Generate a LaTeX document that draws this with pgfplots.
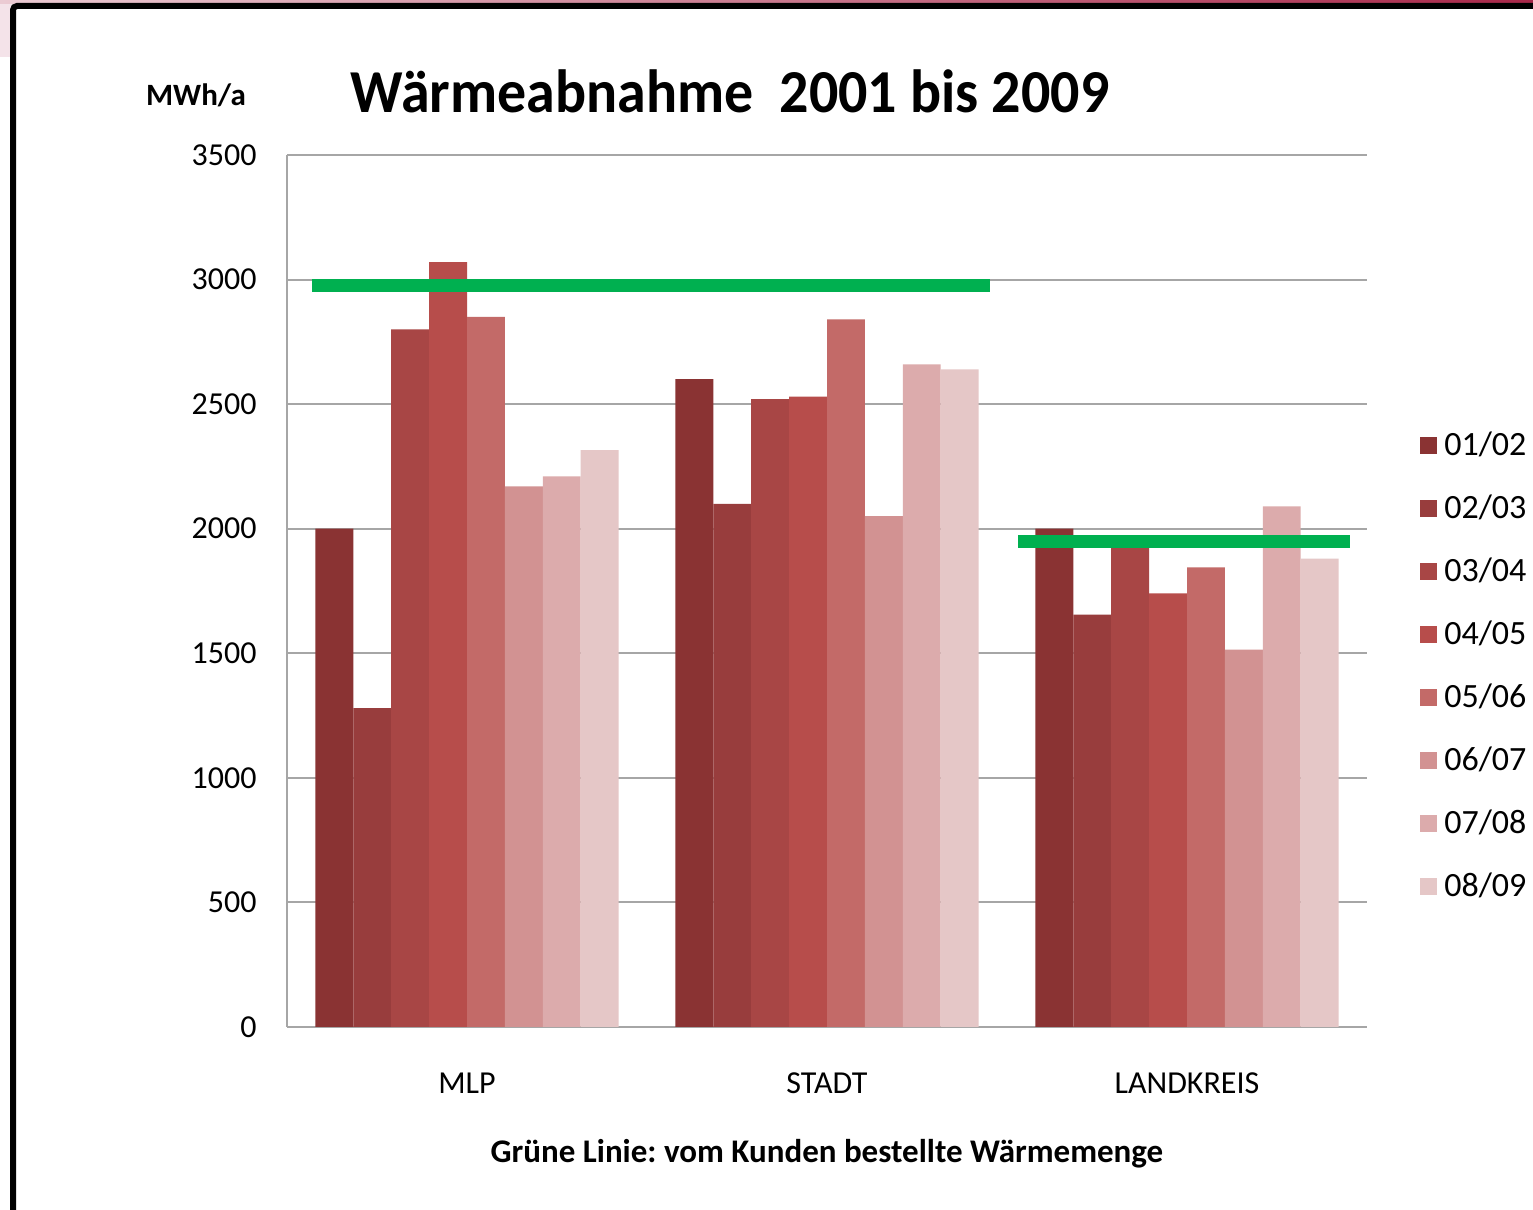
\documentclass[border=0pt]{standalone}
\usepackage{fontspec}
\setmainfont{Carlito}
\newfontfamily\titlefont[FakeStretch=0.95]{Carlito}
\usepackage{pgfplots}
\pgfplotsset{compat=1.18}
\frenchspacing
\definecolor{cA}{HTML}{8A3333}
\definecolor{cB}{HTML}{983D3D}
\definecolor{cC}{HTML}{A84645}
\definecolor{cD}{HTML}{B74D4B}
\definecolor{cE}{HTML}{C36A68}
\definecolor{cF}{HTML}{D29292}
\definecolor{cG}{HTML}{DCABAC}
\definecolor{cH}{HTML}{E5C7C7}
\definecolor{mygreen}{HTML}{00B050}
\definecolor{gridgray}{HTML}{A6A6A6}
\definecolor{pinkbg}{HTML}{F4E3E9}
\definecolor{stripL}{HTML}{EBCBD3}
\definecolor{stripR}{HTML}{A8284A}
\pgfplotsset{
  mybar/.style n args={2}{ybar, bar width=18.95pt, bar shift=#2, fill=#1, draw=none,
    legend image code/.code={\fill[#1] (0pt,-5pt) rectangle (8.5pt,3.5pt);}},
}
\begin{document}
\begin{tikzpicture}[x=1pt,y=1pt]
\path[use as bounding box] (0,0) rectangle (766.5,605);
\fill[white] (0,0) rectangle (766.5,605);
\fill[pinkbg] (0,576.5) rectangle (6,605);
\shade[left color=stripL, right color=stripR] (0,603.3) rectangle (766.5,605);
\draw[line width=3pt, rounded corners=2pt] (6.5,0) -- (6.5,602) -- (766.5,602);

\node[anchor=base, font=\fontsize{30.5}{31}\titlefont\bfseries] at (365,548.5) {Wärmeabnahme\ \ 2001 bis 2009};
\node[anchor=base, font=\fontsize{15.5}{16}\selectfont\bfseries] at (98,552) {MWh/a};
\node[anchor=base, font=\fontsize{16.5}{17}\selectfont\bfseries] at (413.5,23.5) {Grüne Linie: vom Kunden bestellte Wärmemenge};

\begin{axis}[
  at={(143.5pt,91.5pt)}, anchor=south west,
  scale only axis, width=540pt, height=436pt,
  xmin=-0.5, xmax=2.5, ymin=0, ymax=3500,
  axis x line*=bottom, axis y line*=left,
  axis line style={-, draw=gridgray, line width=1pt},
  ytick={0,500,...,3500},
  ymajorgrids, grid style={gridgray, line width=1pt},
  xtick={0,1,2}, xticklabels={MLP,STADT,LANDKREIS},
  major tick length=0pt,
  tick label style={font=\fontsize{16}{16}\selectfont},
  yticklabel style={inner sep=0pt, xshift=-15pt},
  xticklabel style={anchor=base, inner sep=0pt, yshift=-33.5pt},
  /pgf/number format/assume math mode=true,
  /pgf/number format/1000 sep={},
  legend cell align=left,
  legend style={at={(rel axis cs:1.049,0.683)}, anchor=north west,
    draw=none, fill=none, inner sep=0pt, row sep=19.5pt, column sep=3.5pt,
    font=\fontsize{17}{17}\selectfont,
    nodes={inner sep=0pt, text height=12pt, text depth=0pt}},
]
\addplot[mybar={cA}{-66.325pt}] coordinates {(0,2000) (1,2600) (2,2000)};
\addlegendentry{01/02}
\addplot[mybar={cB}{-47.375pt}] coordinates {(0,1280) (1,2100) (2,1655)};
\addlegendentry{02/03}
\addplot[mybar={cC}{-28.425pt}] coordinates {(0,2800) (1,2520) (2,1950)};
\addlegendentry{03/04}
\addplot[mybar={cD}{-9.475pt}] coordinates {(0,3070) (1,2530) (2,1740)};
\addlegendentry{04/05}
\addplot[mybar={cE}{9.475pt}] coordinates {(0,2850) (1,2840) (2,1845)};
\addlegendentry{05/06}
\addplot[mybar={cF}{28.425pt}] coordinates {(0,2170) (1,2050) (2,1515)};
\addlegendentry{06/07}
\addplot[mybar={cG}{47.375pt}] coordinates {(0,2210) (1,2660) (2,2090)};
\addlegendentry{07/08}
\addplot[mybar={cH}{66.325pt}] coordinates {(0,2315) (1,2640) (2,1880)};
\addlegendentry{08/09}
\addplot[sharp plot, forget plot, mygreen, line width=6.5pt] coordinates {(-0.431,2975) (1.453,2975)};
\addplot[sharp plot, forget plot, mygreen, line width=6.5pt] coordinates {(1.531,1950) (2.453,1950)};
\end{axis}
\end{tikzpicture}
\end{document}
